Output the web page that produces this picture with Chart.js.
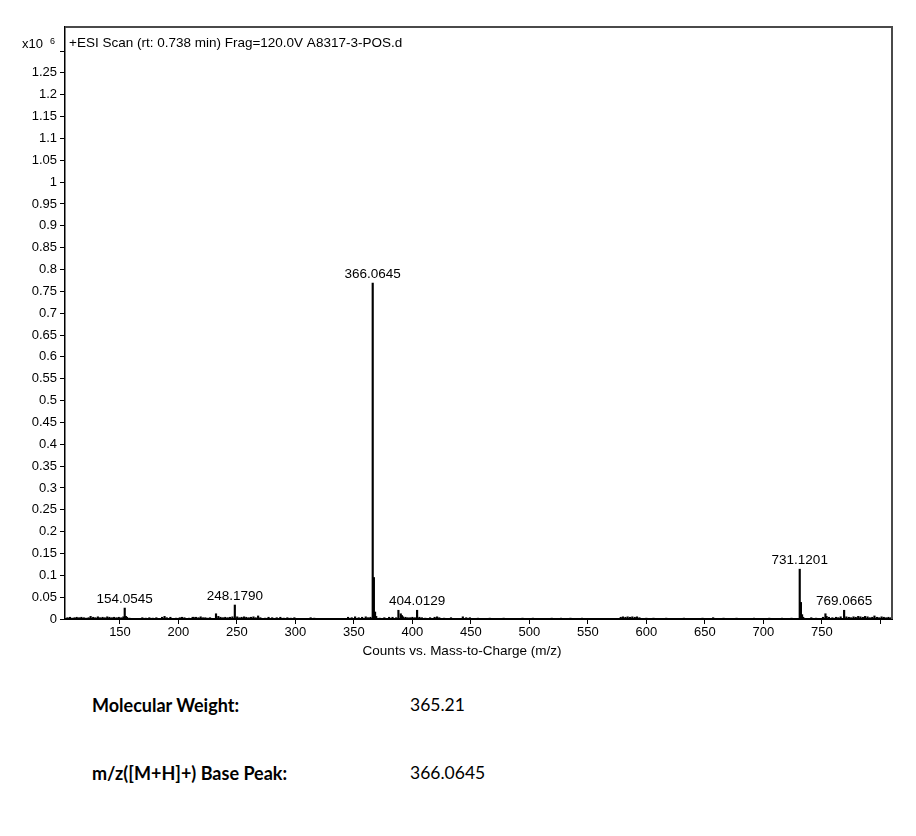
<!DOCTYPE html>
<html>
<head>
<meta charset="utf-8">
<script src="https://cdn.jsdelivr.net/npm/chart.js@4.4.1/dist/chart.umd.min.js"></script>
<style>
  body { margin: 0; background: #fff; width: 916px; height: 836px; position: relative; overflow: hidden; }
  #wrap { position: absolute; left: 0; top: 0; width: 916px; height: 670px; }
  .info { position: absolute; font-family: Lato, "Open Sans", sans-serif; font-size: 18px; color: #000; line-height: 1; }
  .b { font-weight: bold; }
  .n { font-size: 17.5px; }
</style>
</head>
<body>
<div id="wrap"><canvas id="ms" width="916" height="670"></canvas></div>
<div class="info b" style="left:92px; top:696px;">Molecular Weight:</div>
<div class="info n" style="left:410px; top:696px;">365.21</div>
<div class="info b" style="left:92px; top:764px;">m/z([M+H]+) Base Peak:</div>
<div class="info n" style="left:410px; top:764px;">366.0645</div>
<script>
// spectrum sticks, intensity in units of 10^6 counts
const peakMz = [
  105.1, 107.2, 109.0, 111.1, 113.0, 115.1, 117.0, 119.1, 121.0, 123.1, 124.9, 127.1, 129.0, 131.1,
  133.0, 135.1, 137.0, 139.1, 141.0, 143.1, 145.0, 147.1, 149.0, 151.1, 152.9, 154.0545, 155.1, 156.0,
  158.1, 169.1, 172.0, 175.1, 178.0, 181.1, 186.0, 188.1, 190.0, 193.1, 198.0, 201.1, 203.0, 205.1,
  209.0, 212.1, 213.0, 215.0, 217.1, 219.0, 221.1, 223.0, 225.1, 227.0, 232.1, 234.1, 236.0, 238.1,
  240.0, 242.1, 244.0, 246.1, 248.179, 250.2, 252.1, 254.0, 256.1, 258.0, 260.1, 262.0, 264.1, 266.0,
  268.1, 270.0, 274.1, 277.0, 280.1, 284.0, 287.1, 290.0, 293.1, 296.0, 299.1, 313.0, 316.1, 345.0,
  348.1, 351.0, 354.1, 357.0, 360.1, 362.0, 364.1, 366.0645, 367.07, 368.07, 369.06, 372.0, 376.0,
  380.1, 383.0, 386.1, 388.05, 390.05, 391.05, 392.0, 394.1, 396.0, 398.1, 400.0, 402.1, 404.0129,
  406.0, 408.1, 411.0, 415.1, 419.0, 421.1, 423.0, 427.1, 433.0, 443.1, 446.0, 449.1, 456.0, 466.1,
  478.0, 494.1, 503.0, 519.1, 527.0, 535.1, 545.0, 578.1, 580.0, 582.1, 584.0, 586.1, 588.0, 590.1,
  592.0, 594.1, 600.0, 606.1, 617.0, 632.1, 648.0, 657.1, 666.0, 677.1, 692.0, 705.1, 716.0, 724.1,
  731.1201, 732.12, 733.12, 734.1, 741.0, 745.1, 751.0, 753.1, 754.1, 756.1, 759.0, 762.1, 764.0, 766.1,
  769.0665, 771.0, 773.1, 775.0, 777.1, 779.0, 781.1, 783.0, 785.1, 787.0, 789.1, 791.0, 793.1, 795.0,
  797.1, 799.0, 801.1, 803.0, 805.1, 807.0, 809.1
];
const peakInt = [
  0.003, 0.004, 0.002, 0.003, 0.004, 0.003, 0.004, 0.003, 0.002, 0.003, 0.006, 0.004, 0.003, 0.005,
  0.003, 0.004, 0.003, 0.005, 0.004, 0.003, 0.004, 0.003, 0.004, 0.003, 0.005, 0.025, 0.006, 0.004,
  0.002, 0.003, 0.002, 0.003, 0.002, 0.003, 0.004, 0.006, 0.003, 0.004, 0.002, 0.003, 0.004, 0.003,
  0.002, 0.004, 0.004, 0.004, 0.003, 0.005, 0.003, 0.003, 0.002, 0.003, 0.012, 0.006, 0.004, 0.003,
  0.004, 0.003, 0.004, 0.005, 0.032, 0.005, 0.003, 0.004, 0.005, 0.004, 0.003, 0.004, 0.005, 0.003,
  0.007, 0.003, 0.002, 0.004, 0.003, 0.003, 0.004, 0.002, 0.003, 0.002, 0.003, 0.003, 0.002, 0.004,
  0.003, 0.005, 0.003, 0.004, 0.005, 0.003, 0.004, 0.769, 0.095, 0.016, 0.006, 0.002, 0.003,
  0.004, 0.004, 0.003, 0.020, 0.012, 0.008, 0.005, 0.004, 0.003, 0.003, 0.004, 0.003, 0.020,
  0.004, 0.003, 0.002, 0.003, 0.004, 0.005, 0.003, 0.002, 0.003, 0.005, 0.003, 0.003, 0.002, 0.002,
  0.002, 0.002, 0.002, 0.002, 0.002, 0.002, 0.002, 0.004, 0.005, 0.004, 0.005, 0.004, 0.005, 0.004,
  0.005, 0.003, 0.002, 0.002, 0.002, 0.002, 0.002, 0.003, 0.002, 0.002, 0.002, 0.002, 0.002, 0.002,
  0.114, 0.038, 0.010, 0.004, 0.003, 0.002, 0.004, 0.012, 0.006, 0.004, 0.003, 0.004, 0.003, 0.005,
  0.020, 0.005, 0.004, 0.003, 0.005, 0.004, 0.006, 0.005, 0.004, 0.006, 0.005, 0.003, 0.004, 0.007,
  0.004, 0.003, 0.005, 0.004, 0.003, 0.004, 0.003
];
// annotated peaks
const labelMz = [154.0545, 248.179, 366.0645, 404.0129, 731.1201, 769.0665];
const labelText = ["154.0545", "248.1790", "366.0645", "404.0129", "731.1201", "769.0665"];
// axes
const xTicks = [150, 200, 250, 300, 350, 400, 450, 500, 550, 600, 650, 700, 750, 800];
const yTicks = [0, 0.05, 0.1, 0.15, 0.2, 0.25, 0.3, 0.35, 0.4, 0.45, 0.5, 0.55, 0.6, 0.65, 0.7, 0.75,
  0.8, 0.85, 0.9, 0.95, 1, 1.05, 1.1, 1.15, 1.2, 1.25, 1.3];

const FONT = "'Liberation Sans', Arial, sans-serif";

const extras = {
  id: "extras",
  afterDraw(chart) {
    const ctx = chart.ctx;
    const a = chart.chartArea;
    const xs = chart.scales.x, ys = chart.scales.y;
    ctx.save();
    // top + right frame
    ctx.strokeStyle = "#4a4a4a";
    ctx.lineWidth = 2;
    ctx.beginPath();
    ctx.moveTo(a.left, a.top);
    ctx.lineTo(a.right, a.top);
    ctx.lineTo(a.right, a.bottom);
    ctx.stroke();
    // scan title
    ctx.fillStyle = "#000";
    ctx.font = "13.5px " + FONT;
    ctx.textAlign = "left";
    ctx.textBaseline = "middle";
    ctx.fillText("+ESI Scan (rt: 0.738 min) Frag=120.0V A8317-3-POS.d", a.left + 4, 43);
    // exponent
    ctx.textAlign = "right";
    ctx.font = "13px " + FONT;
    ctx.fillText("x10", 43, 44);
    ctx.font = "9px " + FONT;
    ctx.fillText("6", 55, 42);
    // axis title
    ctx.font = "13.5px " + FONT;
    ctx.textAlign = "center";
    ctx.fillText("Counts vs. Mass-to-Charge (m/z)", 462, 651);
    // peak labels
    ctx.font = "13.5px " + FONT;
    ctx.textBaseline = "bottom";
    labelMz.forEach((mz, i) => {
      const v = peakInt[peakMz.indexOf(mz)];
      const px = xs.getPixelForValue(mz);
      const py = ys.getPixelForValue(v);
      ctx.fillText(labelText[i], px, py - 2);
    });
    ctx.restore();
  }
};

new Chart(document.getElementById("ms"), {
  type: "bar",
  data: {
    datasets: [{
      data: peakMz.map((m, i) => ({ x: m, y: peakInt[i] })),
      backgroundColor: "#000",
      barThickness: 1.5,
      borderWidth: 0
    }]
  },
  options: {
    responsive: false,
    animation: false,
    events: [],
    layout: { padding: { top: 27, right: 24, left: 0, bottom: 0 } },
    plugins: { legend: { display: false }, tooltip: { enabled: false } },
    scales: {
      x: {
        type: "linear",
        offset: false,
        min: 103,
        max: 810,
        afterFit(s) { s.height = 51; },
        afterBuildTicks(s) { s.ticks = xTicks.map(v => ({ value: v })); },
        grid: { drawOnChartArea: false, offset: false, color: "#000", tickLength: 5, lineWidth: 1 },
        border: { color: "#000", width: 2 },
        ticks: {
          color: "#000",
          font: { family: FONT, size: 13 },
          padding: 1,
          maxRotation: 0,
          callback: v => (v === 800 ? "" : String(v))
        }
      },
      y: {
        min: 0,
        max: 1.355,
        afterFit(s) { s.width = 65; },
        afterBuildTicks(s) { s.ticks = yTicks.map(v => ({ value: v })); },
        grid: { drawOnChartArea: false, color: "#000", tickLength: 5, lineWidth: 1 },
        border: { color: "#000", width: 1.5 },
        ticks: {
          color: "#000",
          font: { family: FONT, size: 13 },
          padding: 3,
          callback: v => (v === 1.3 ? "" : String(Number(v.toFixed(2))))
        }
      }
    }
  },
  plugins: [extras]
});
</script>
</body>
</html>
